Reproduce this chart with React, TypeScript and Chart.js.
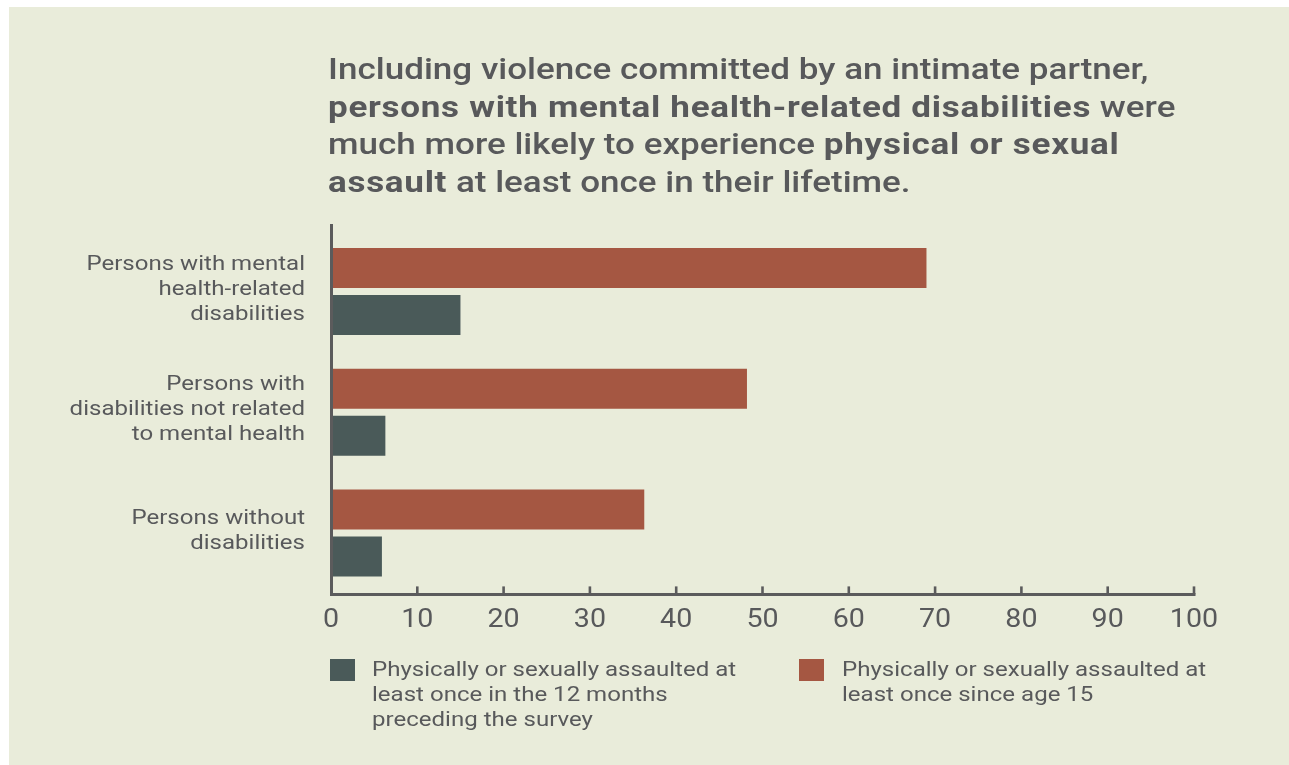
import React, { useEffect, useRef } from 'react';
import { Chart, registerables } from 'chart.js';

Chart.register(...registerables);

// ---------- data ----------
const categories: string[][] = [
  ['Persons with mental', 'health-related', 'disabilities'],
  ['Persons with', 'disabilities not related', 'to mental health'],
  ['Persons without', 'disabilities'],
];
const sinceAge15: number[] = [69, 48.2, 36.3];
const last12Months: number[] = [15, 6.3, 5.9];
const xTickValues: number[] = [0, 10, 20, 30, 40, 50, 60, 70, 80, 90, 100];

const sinceAge15Label: string[] = ['Physically or sexually assaulted at', 'least once since age 15'];
const last12MonthsLabel: string[] = [
  'Physically or sexually assaulted at',
  'least once in the 12 months',
  'preceding the survey',
];

type Seg = { text: string; bold: boolean };
const titleLines: Seg[][] = [
  [{ text: 'Including violence committed by an intimate partner,', bold: false }],
  [
    { text: 'persons with mental health-related disabilities', bold: true },
    { text: ' were', bold: false },
  ],
  [
    { text: 'much more likely to experience ', bold: false },
    { text: 'physical or sexual', bold: true },
  ],
  [
    { text: 'assault', bold: true },
    { text: ' at least once in their lifetime.', bold: false },
  ],
];

// ---------- styles ----------
const BG = '#e9ecda';
const RED = '#a55742';
const GRAY = '#4a5a59';
const TEXT = '#58595b';
const AXIS = '#5b5b5c';
const FONT = 'Roboto, "Noto Sans", sans-serif';
const TEXT_STRETCH = 1.145; // the reference text is horizontally wide
const TITLE_STRETCH = 1.168;

const stretchPlugin = {
  id: 'textStretch',
  beforeDraw(chart: any) {
    const ctx: any = chart.ctx;
    if (ctx.__origFillText) return;
    const orig = ctx.fillText;
    ctx.__origFillText = orig;
    ctx.fillText = function (text: string, x: number, y: number, maxWidth?: number) {
      this.save();
      this.translate(x, y);
      this.scale(TEXT_STRETCH, 1);
      if (maxWidth === undefined) orig.call(this, text, 0, 0);
      else orig.call(this, text, 0, 0, maxWidth);
      this.restore();
    };
  },
};

const axesPlugin = {
  id: 'customAxes',
  afterDatasetsDraw(chart: any) {
    const { ctx, chartArea } = chart;
    const { left, right, top, bottom } = chartArea;
    const x = chart.scales.x;
    ctx.save();
    ctx.strokeStyle = AXIS;
    ctx.lineCap = 'butt';
    ctx.lineWidth = 3;
    ctx.beginPath();
    ctx.moveTo(left + 0.5, top - 7);
    ctx.lineTo(left + 0.5, bottom + 2.5);
    ctx.stroke();
    ctx.beginPath();
    ctx.moveTo(left - 1, bottom + 1);
    ctx.lineTo(right + 1.5, bottom + 1);
    ctx.stroke();
    ctx.lineWidth = 2.6;
    xTickValues.forEach((v) => {
      if (v === 0) return;
      const px = x.getPixelForValue(v);
      ctx.beginPath();
      ctx.moveTo(px, bottom + 1);
      ctx.lineTo(px, bottom - 7);
      ctx.stroke();
    });
    ctx.restore();
  },
};

export default function App() {
  const canvasRef = useRef<HTMLCanvasElement | null>(null);

  useEffect(() => {
    let chart: Chart | null = null;
    let cancelled = false;
    const make = () => {
      if (cancelled || !canvasRef.current) return;
      chart = new Chart(canvasRef.current, {
        type: 'bar',
        data: {
          labels: categories,
          datasets: [
            {
              label: sinceAge15Label.join(' '),
              data: sinceAge15,
              backgroundColor: RED,
              borderWidth: 0,
              barPercentage: 0.851,
              categoryPercentage: 0.778,
            },
            {
              label: last12MonthsLabel.join(' '),
              data: last12Months,
              backgroundColor: GRAY,
              borderWidth: 0,
              barPercentage: 0.851,
              categoryPercentage: 0.778,
            },
          ],
        },
        options: {
          indexAxis: 'y',
          animation: false,
          responsive: true,
          maintainAspectRatio: false,
          layout: { padding: { left: 0, right: 95, top: 224, bottom: 121.6 } },
          plugins: {
            legend: { display: false },
            title: { display: false },
            tooltip: { enabled: false },
          },
          scales: {
            x: {
              type: 'linear',
              min: 0,
              max: 100,
              afterBuildTicks: (s: any) => {
                s.ticks = xTickValues.map((v) => ({ value: v }));
              },
              ticks: {
                stepSize: 10,
                autoSkip: false,
                maxRotation: 0,
                padding: 12,
                color: TEXT,
                font: { family: FONT, size: 25 },
              },
              grid: { display: false, drawTicks: false, tickLength: 0 },
              border: { display: false },
              afterFit: (s: any) => {
                s.height = 50;
              },
            },
            y: {
              type: 'category',
              ticks: {
                padding: 26,
                labelOffset: -2,
                color: TEXT,
                font: { family: FONT, size: 21, lineHeight: 1.19 },
              },
              grid: { display: false, drawTicks: false, tickLength: 0 },
              border: { display: false },
              afterFit: (s: any) => {
                s.width = 322;
              },
            },
          },
        },
        plugins: [stretchPlugin, axesPlugin],
      } as any);
    };
    const fontsReady = (document as any).fonts
      ? Promise.all([
          (document as any).fonts.load(`25px Roboto`),
          (document as any).fonts.load(`21px Roboto`),
        ]).catch(() => null)
      : Promise.resolve(null);
    fontsReady.then(make);
    return () => {
      cancelled = true;
      if (chart) chart.destroy();
    };
  }, []);

  const legendItems = [
    { color: GRAY, lines: last12MonthsLabel, boxLeft: 321, textLeft: 363 },
    { color: RED, lines: sinceAge15Label, boxLeft: 790, textLeft: 833 },
  ];

  return (
    <div
      style={{
        position: 'fixed',
        left: 9,
        top: 7,
        width: 1280,
        height: 758,
        background: BG,
        overflow: 'hidden',
      }}
    >
      <canvas ref={canvasRef} style={{ position: 'absolute', left: 0, top: 0 }} />
      <div
        style={{
          position: 'absolute',
          left: 319,
          top: 43.3,
          fontFamily: FONT,
          fontSize: 30,
          lineHeight: '37.5px',
          fontWeight: 500,
          color: TEXT,
          whiteSpace: 'nowrap',
          transform: `scaleX(${TITLE_STRETCH})`,
          transformOrigin: 'left top',
        }}
      >
        {titleLines.map((line, i) => (
          <div key={i}>
            {line.map((seg, j) => (
              <span
                key={j}
                style={{
                  fontWeight: seg.bold ? 700 : 500,
                  letterSpacing: seg.bold ? '0.6px' : '0px',
                }}
              >
                {seg.text}
              </span>
            ))}
          </div>
        ))}
      </div>
      {legendItems.map((item, i) => (
        <React.Fragment key={i}>
          <div
            style={{
              position: 'absolute',
              left: item.boxLeft,
              top: 652,
              width: 25,
              height: 22,
              background: item.color,
            }}
          />
          <div
            style={{
              position: 'absolute',
              left: item.textLeft,
              top: 650.3,
              fontFamily: FONT,
              fontSize: 21,
              lineHeight: '25px',
              color: TEXT,
              whiteSpace: 'nowrap',
              transform: `scaleX(${TEXT_STRETCH})`,
              transformOrigin: 'left top',
            }}
          >
            {item.lines.map((l, k) => (
              <div key={k}>{l}</div>
            ))}
          </div>
        </React.Fragment>
      ))}
    </div>
  );
}
